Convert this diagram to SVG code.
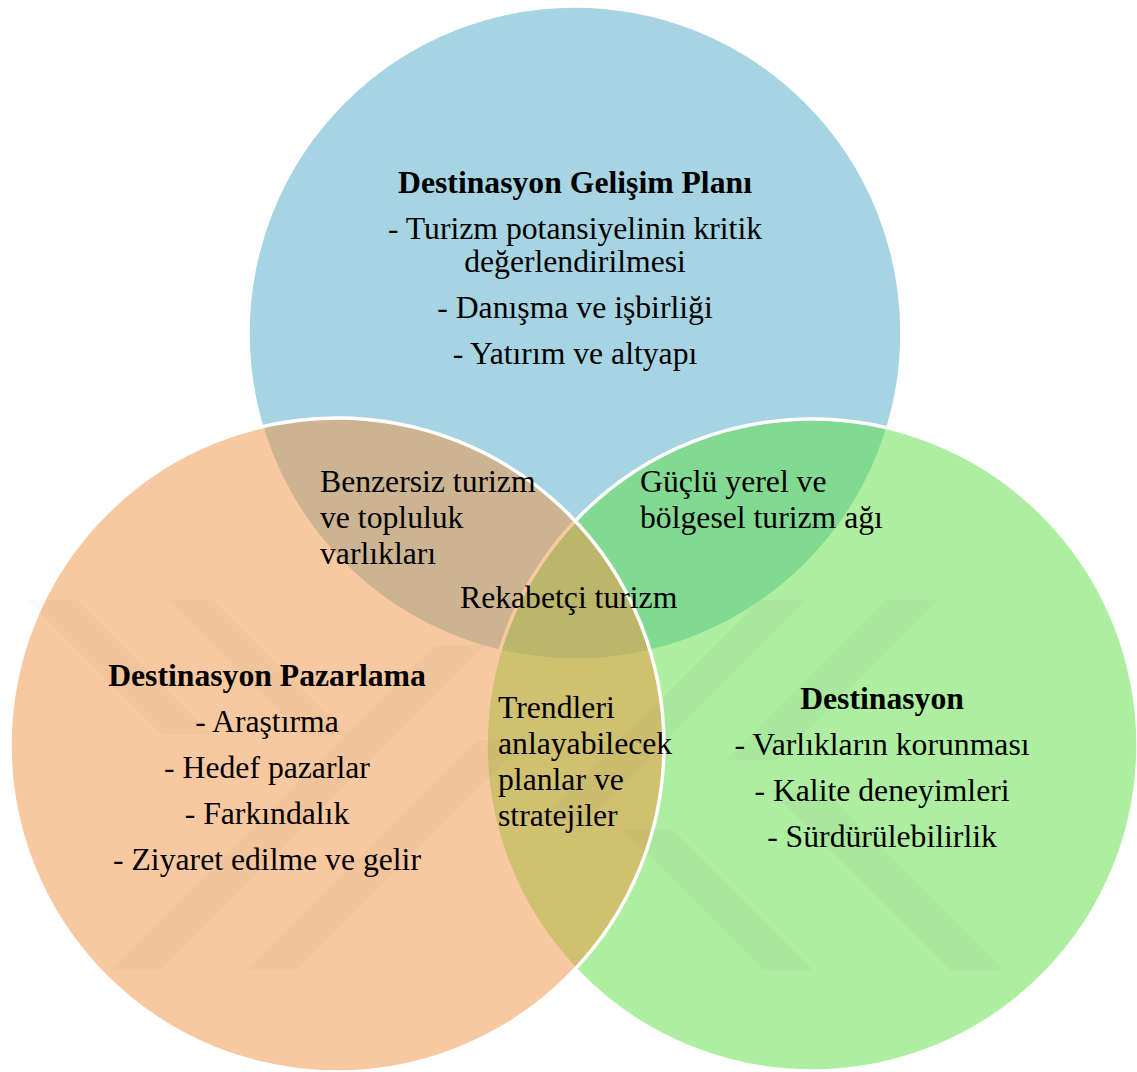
<svg xmlns="http://www.w3.org/2000/svg" width="1137" height="1072" viewBox="0 0 1137 1072">
  <style>
    .set { fill-opacity: 0.5; stroke: #ffffff; stroke-width: 3.5; }
    .t { font-family: "Liberation Serif", "Times New Roman", "DejaVu Serif", serif; font-size: 31.7px; fill: #000000; }
    .c { text-anchor: middle; }
    .b { font-weight: bold; }
    .mark { fill: #000000; fill-opacity: 0.022; }
  </style>

  <rect width="1137" height="1072" fill="#ffffff"/>

  <!-- the three sets; translucent fills mix where they overlap -->
  <g id="set-plan">
    <circle class="set" cx="575" cy="333" r="327" fill="#4da9c5"/>
  </g>
  <g id="set-destination">
    <circle class="set" cx="812" cy="745" r="326" fill="#5ddd41"/>
  </g>
  <g id="set-marketing">
    <circle class="set" cx="337" cy="745" r="327" fill="#f19341"/>
  </g>

  <!-- faint background emblem -->
  <g id="emblem">
    <polygon class="mark" points="27,600 77,600 212,735 162,735"/>
    <polygon class="mark" points="167,600 213,600 348,735 302,735"/>
    <polygon class="mark" points="110,970 160,970 485,645 435,645"/>
    <polygon class="mark" points="247,970 297,970 527,740 477,740"/>
    <polygon class="mark" points="760,600 807,600 587,820 540,820"/>
    <polygon class="mark" points="887,600 937,600 777,760 727,760"/>
    <polygon class="mark" points="763,970 813,970 673,830 623,830"/>
    <polygon class="mark" points="950,970 1003,970 823,790 770,790"/>
  </g>

  <g id="connectors"/>

  <g id="label-plan">
    <text class="t c b" x="575" y="193">Destinasyon Gelişim Planı</text>
    <text class="t c" x="575" y="239">- Turizm potansiyelinin kritik</text>
    <text class="t c" x="575" y="272">değerlendirilmesi</text>
    <text class="t c" x="575" y="318">- Danışma ve işbirliği</text>
    <text class="t c" x="575" y="364">- Yatırım ve altyapı</text>
  </g>

  <g id="label-marketing">
    <text class="t c b" x="267" y="686">Destinasyon Pazarlama</text>
    <text class="t c" x="267" y="732">- Araştırma</text>
    <text class="t c" x="267" y="778">- Hedef pazarlar</text>
    <text class="t c" x="267" y="824">- Farkındalık</text>
    <text class="t c" x="267" y="870">- Ziyaret edilme ve gelir</text>
  </g>

  <g id="label-destination">
    <text class="t c b" x="882" y="709">Destinasyon</text>
    <text class="t c" x="882" y="755">- Varlıkların korunması</text>
    <text class="t c" x="882" y="801">- Kalite deneyimleri</text>
    <text class="t c" x="882" y="847">- Sürdürülebilirlik</text>
  </g>

  <g id="label-plan-marketing">
    <text class="t" x="320" y="492">Benzersiz turizm</text>
    <text class="t" x="320" y="528">ve topluluk</text>
    <text class="t" x="320" y="564">varlıkları</text>
  </g>

  <g id="label-plan-destination">
    <text class="t" x="640" y="492">Güçlü yerel ve</text>
    <text class="t" x="640" y="528">bölgesel turizm ağı</text>
  </g>

  <g id="label-center">
    <text class="t" x="460" y="608">Rekabetçi turizm</text>
  </g>

  <g id="label-marketing-destination">
    <text class="t" x="498" y="718">Trendleri</text>
    <text class="t" x="498" y="754">anlayabilecek</text>
    <text class="t" x="498" y="790">planlar ve</text>
    <text class="t" x="498" y="826">stratejiler</text>
  </g>
</svg>
